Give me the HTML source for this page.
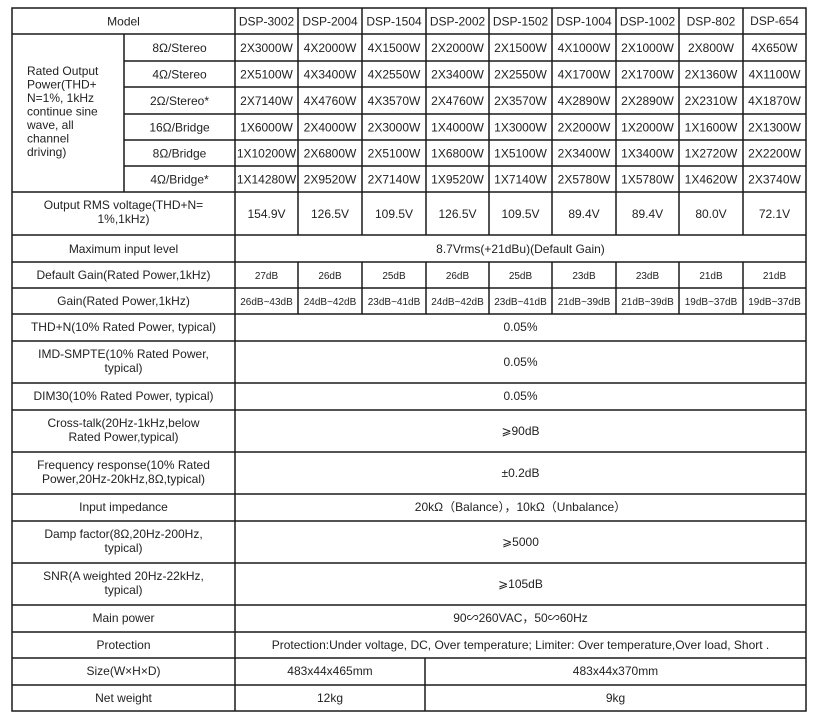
<!DOCTYPE html>
<html><head><meta charset="utf-8"><style>
html,body{margin:0;padding:0;background:#fff;}
svg{display:block;}
text{font-family:"Liberation Sans","Noto Sans CJK SC",sans-serif;fill:#222;font-size:12px;}
.s{font-size:10px;}
line{stroke:#1a1a1a;stroke-width:1.5;}
</style></head><body>
<svg width="817" height="718" viewBox="0 0 817 718" xmlns="http://www.w3.org/2000/svg">
<rect x="12" y="8" width="794" height="703" fill="none" stroke="#1a1a1a" stroke-width="1.5"/>
<!-- horizontal full lines -->
<g>
<line x1="12" y1="34" x2="806" y2="34"/>
<line x1="124" y1="61" x2="806" y2="61"/>
<line x1="124" y1="87" x2="806" y2="87"/>
<line x1="124" y1="114" x2="806" y2="114"/>
<line x1="124" y1="140" x2="806" y2="140"/>
<line x1="124" y1="166" x2="806" y2="166"/>
<line x1="12" y1="192" x2="806" y2="192"/>
<line x1="12" y1="235" x2="806" y2="235"/>
<line x1="12" y1="262" x2="806" y2="262"/>
<line x1="12" y1="288" x2="806" y2="288"/>
<line x1="12" y1="314" x2="806" y2="314"/>
<line x1="12" y1="341" x2="806" y2="341"/>
<line x1="12" y1="383" x2="806" y2="383"/>
<line x1="12" y1="410" x2="806" y2="410"/>
<line x1="12" y1="452" x2="806" y2="452"/>
<line x1="12" y1="494" x2="806" y2="494"/>
<line x1="12" y1="521" x2="806" y2="521"/>
<line x1="12" y1="563" x2="806" y2="563"/>
<line x1="12" y1="605" x2="806" y2="605"/>
<line x1="12" y1="632" x2="806" y2="632"/>
<line x1="12" y1="658" x2="806" y2="658"/>
<line x1="12" y1="685" x2="806" y2="685"/>
</g>
<!-- vertical lines -->
<line x1="124" y1="34" x2="124" y2="192"/>
<line x1="235" y1="8" x2="235" y2="711"/>
<g>
<line x1="298" y1="8" x2="298" y2="235"/><line x1="298" y1="262" x2="298" y2="314"/>
<line x1="362" y1="8" x2="362" y2="235"/><line x1="362" y1="262" x2="362" y2="314"/>
<line x1="426" y1="8" x2="426" y2="235"/><line x1="426" y1="262" x2="426" y2="314"/>
<line x1="489" y1="8" x2="489" y2="235"/><line x1="489" y1="262" x2="489" y2="314"/>
<line x1="552" y1="8" x2="552" y2="235"/><line x1="552" y1="262" x2="552" y2="314"/>
<line x1="616" y1="8" x2="616" y2="235"/><line x1="616" y1="262" x2="616" y2="314"/>
<line x1="679" y1="8" x2="679" y2="235"/><line x1="679" y1="262" x2="679" y2="314"/>
<line x1="743" y1="8" x2="743" y2="235"/><line x1="743" y1="262" x2="743" y2="314"/>
<line x1="425" y1="658" x2="425" y2="711"/>
</g>
<g text-anchor="middle">
<text x="123.5" y="25.5">Model</text>
<text x="266.5" y="25.5">DSP-3002</text><text x="330" y="25.5">DSP-2004</text><text x="394" y="25.5">DSP-1504</text><text x="457.5" y="25.5">DSP-2002</text><text x="520.5" y="25.5">DSP-1502</text><text x="584" y="25.5">DSP-1004</text><text x="647.5" y="25.5">DSP-1002</text><text x="711" y="25.5">DSP-802</text><text x="774.5" y="25" font-size="11">DSP-654</text>

<text x="179.5" y="52">8Ω/Stereo</text><text x="179.5" y="78.5">4Ω/Stereo</text><text x="179.5" y="105">2Ω/Stereo*</text><text x="179.5" y="131.5">16Ω/Bridge</text><text x="179.5" y="157.5">8Ω/Bridge</text><text x="179.5" y="183.5">4Ω/Bridge*</text>

<text x="266.5" y="52">2X3000W</text><text x="330" y="52">4X2000W</text><text x="394" y="52">4X1500W</text><text x="457.5" y="52">2X2000W</text><text x="520.5" y="52">2X1500W</text><text x="584" y="52">4X1000W</text><text x="647.5" y="52">2X1000W</text><text x="711" y="52">2X800W</text><text x="774.5" y="52" font-size="10.5">4X650W</text>
<text x="266.5" y="78.5">2X5100W</text><text x="330" y="78.5">4X3400W</text><text x="394" y="78.5">4X2550W</text><text x="457.5" y="78.5">2X3400W</text><text x="520.5" y="78.5">2X2550W</text><text x="584" y="78.5">4X1700W</text><text x="647.5" y="78.5">2X1700W</text><text x="711" y="78.5">2X1360W</text><text x="774.5" y="78.5" font-size="10.5">4X1100W</text>
<text x="266.5" y="105">2X7140W</text><text x="330" y="105">4X4760W</text><text x="394" y="105">4X3570W</text><text x="457.5" y="105">2X4760W</text><text x="520.5" y="105">2X3570W</text><text x="584" y="105">4X2890W</text><text x="647.5" y="105">2X2890W</text><text x="711" y="105">2X2310W</text><text x="774.5" y="105" font-size="10.5">4X1870W</text>
<text x="266.5" y="131.5">1X6000W</text><text x="330" y="131.5">2X4000W</text><text x="394" y="131.5">2X3000W</text><text x="457.5" y="131.5">1X4000W</text><text x="520.5" y="131.5">1X3000W</text><text x="584" y="131.5">2X2000W</text><text x="647.5" y="131.5">1X2000W</text><text x="711" y="131.5">1X1600W</text><text x="774.5" y="131.5" font-size="10.5">2X1300W</text>
<text x="266.5" y="157.5">1X10200W</text><text x="330" y="157.5">2X6800W</text><text x="394" y="157.5">2X5100W</text><text x="457.5" y="157.5">1X6800W</text><text x="520.5" y="157.5">1X5100W</text><text x="584" y="157.5">2X3400W</text><text x="647.5" y="157.5">1X3400W</text><text x="711" y="157.5">1X2720W</text><text x="774.5" y="157.5" font-size="10.5">2X2200W</text>
<text x="266.5" y="183.5">1X14280W</text><text x="330" y="183.5">2X9520W</text><text x="394" y="183.5">2X7140W</text><text x="457.5" y="183.5">1X9520W</text><text x="520.5" y="183.5">1X7140W</text><text x="584" y="183.5">2X5780W</text><text x="647.5" y="183.5">1X5780W</text><text x="711" y="183.5">1X4620W</text><text x="774.5" y="183.5" font-size="10.5">2X3740W</text>

<text x="123.5" y="209">Output RMS voltage(THD+N=</text><text x="123.5" y="223">1%,1kHz)</text>
<text x="266.5" y="218">154.9V</text><text x="330" y="218">126.5V</text><text x="394" y="218">109.5V</text><text x="457.5" y="218">126.5V</text><text x="520.5" y="218">109.5V</text><text x="584" y="218">89.4V</text><text x="647.5" y="218">89.4V</text><text x="711" y="218">80.0V</text><text x="774.5" y="218" font-size="10.5">72.1V</text>

<text x="123.5" y="253">Maximum input level</text><text x="520.5" y="253">8.7Vrms(+21dBu)(Default Gain)</text>
<text x="123.5" y="279" font-size="11">Default Gain(Rated Power,1kHz)</text>
<text class="s" x="266.5" y="279">27dB</text><text class="s" x="330" y="279">26dB</text><text class="s" x="394" y="279">25dB</text><text class="s" x="457.5" y="279">26dB</text><text class="s" x="520.5" y="279">25dB</text><text class="s" x="584" y="279">23dB</text><text class="s" x="647.5" y="279">23dB</text><text class="s" x="711" y="279">21dB</text><text class="s" x="774.5" y="279">21dB</text>
<text x="123.5" y="305">Gain(Rated Power,1kHz)</text>
<text class="s" x="266.5" y="305">26dB~43dB</text><text class="s" x="330" y="305">24dB~42dB</text><text class="s" x="394" y="305">23dB~41dB</text><text class="s" x="457.5" y="305">24dB~42dB</text><text class="s" x="520.5" y="305">23dB~41dB</text><text class="s" x="584" y="305">21dB~39dB</text><text class="s" x="647.5" y="305">21dB~39dB</text><text class="s" x="711" y="305">19dB~37dB</text><text class="s" x="774.5" y="305">19dB~37dB</text>

<text x="123.5" y="331">THD+N(10% Rated Power, typical)</text><text x="520.5" y="331">0.05%</text>
<text x="123.5" y="358">IMD-SMPTE(10% Rated Power,</text><text x="123.5" y="372">typical)</text><text x="520.5" y="366">0.05%</text>
<text x="123.5" y="400">DIM30(10% Rated Power, typical)</text><text x="520.5" y="400">0.05%</text>
<text x="123.5" y="427">Cross-talk(20Hz-1kHz,below</text><text x="123.5" y="441">Rated Power,typical)</text><text x="520.5" y="435">⩾90dB</text>
<text x="123.5" y="469">Frequency response(10% Rated</text><text x="123.5" y="483">Power,20Hz-20kHz,8Ω,typical)</text><text x="520.5" y="477">±0.2dB</text>
<text x="123.5" y="511">Input impedance</text><text x="520.5" y="511">20kΩ（Balance），10kΩ（Unbalance）</text>
<text x="123.5" y="538">Damp factor(8Ω,20Hz-200Hz,</text><text x="123.5" y="552">typical)</text><text x="520.5" y="546">⩾5000</text>
<text x="123.5" y="580">SNR(A weighted 20Hz-22kHz,</text><text x="123.5" y="594">typical)</text><text x="520.5" y="588">⩾105dB</text>
<text x="123.5" y="622">Main power</text><text x="520.5" y="622">90∽260VAC，50∽60Hz</text>
<text x="123.5" y="649">Protection</text><text x="520.5" y="649">Protection:Under voltage, DC, Over temperature; Limiter: Over temperature,Over load, Short .</text>
<text x="123.5" y="675">Size(W×H×D)</text><text x="330" y="675">483x44x465mm</text><text x="615.5" y="675">483x44x370mm</text>
<text x="123.5" y="702">Net weight</text><text x="330" y="702">12kg</text><text x="615.5" y="702">9kg</text>
</g>
<g>
<text x="27" y="75">Rated Output</text>
<text x="27" y="88.5">Power(THD+</text>
<text x="27" y="102">N=1%, 1kHz</text>
<text x="27" y="115.5">continue sine</text>
<text x="27" y="129">wave, all</text>
<text x="27" y="142.5">channel</text>
<text x="27" y="156">driving)</text>
</g>
</svg>
</body></html>
